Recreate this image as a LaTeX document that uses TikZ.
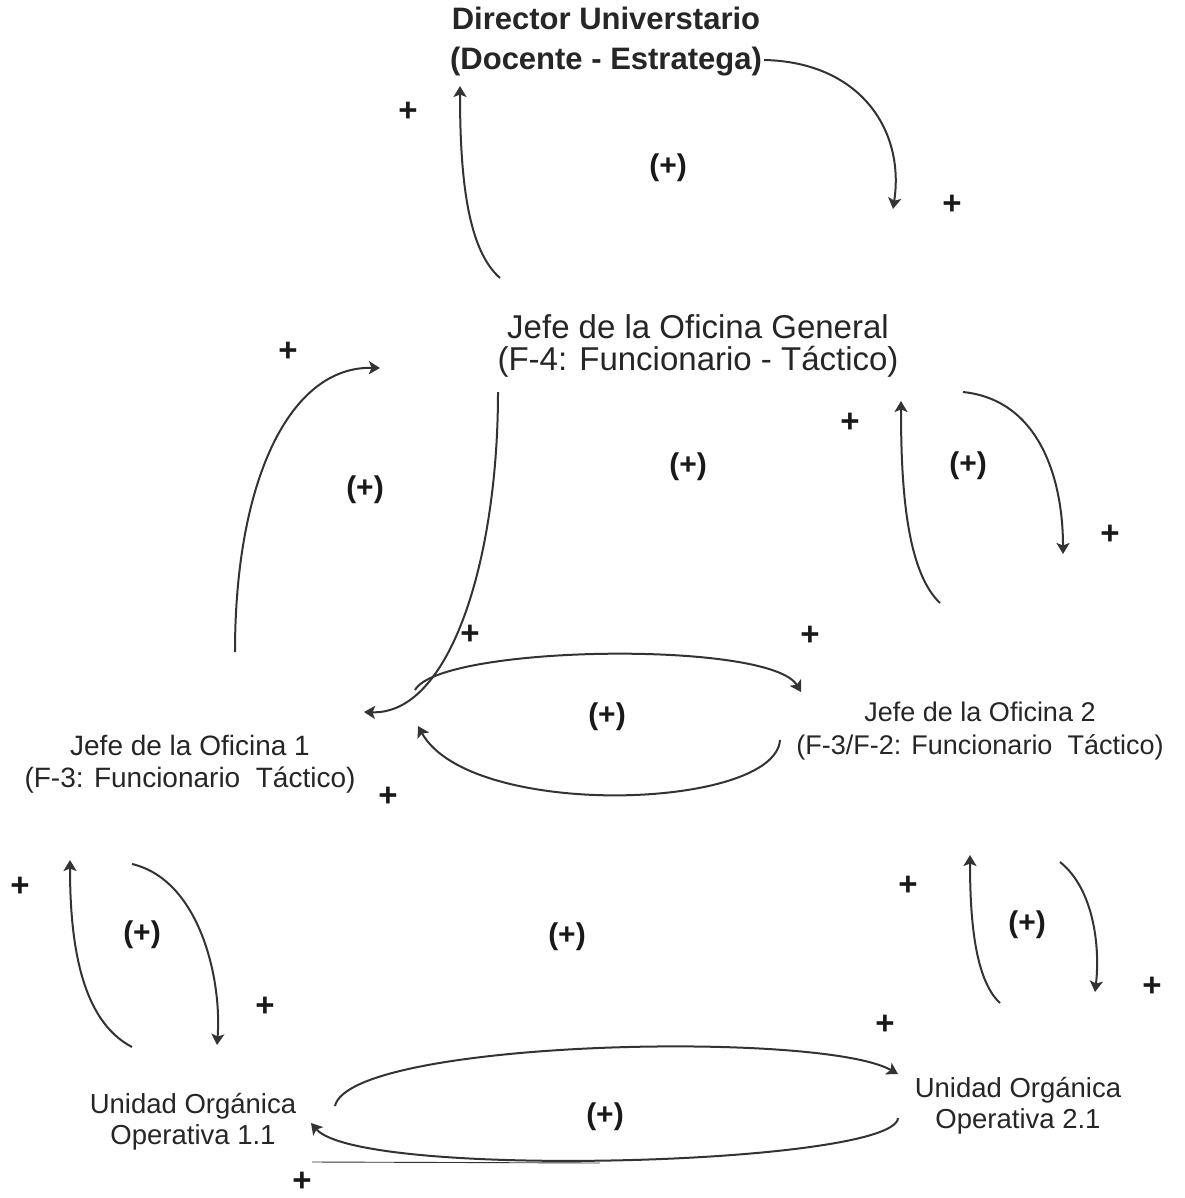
\documentclass[tikz,border=0pt]{standalone}
\usepackage{fontspec}
\setmainfont{Liberation Sans}
\usetikzlibrary{arrows.meta}
\begin{document}
\begin{tikzpicture}[x=1pt,y=-1pt,
  lbl/.style={align=center, inner sep=0pt, text=black!85},
  link/.style={draw=black!80, line width=2pt, -{Stealth[length=11pt,width=13pt,inset=2.5pt]}},
  sgn/.style={font=\fontsize{33}{33}\selectfont\bfseries, inner sep=0pt, text=black!90},
  loopmark/.style={font=\fontsize{30}{30}\selectfont\bfseries, inner sep=0pt, text=black!90}]
\useasboundingbox[fill=white] (0,0) rectangle (1184,1198);

% actors
\node[lbl, font=\fontsize{31}{40}\selectfont\bfseries] (dir) at (606,42) {Director Universtario\\(Docente - Estratega)};
\node[lbl, font=\fontsize{33}{32}\selectfont] (gen) at (698,346) {Jefe de la Oficina General\\(F-4: Funcionario - Táctico)};
\node[lbl, font=\fontsize{28}{32}\selectfont] (of1) at (190,764) {Jefe de la Oficina 1\\(F-3: Funcionario\ \ Táctico)};
\node[lbl, font=\fontsize{27}{33}\selectfont] (of2) at (980,731) {Jefe de la Oficina 2\\(F-3/F-2: Funcionario\ \ Táctico)};
\node[lbl, font=\fontsize{27.5}{31}\selectfont] (uo1) at (193,1122) {Unidad Orgánica\\Operativa 1.1};
\node[lbl, font=\fontsize{27.5}{31}\selectfont] (uo2) at (1018,1106) {Unidad Orgánica\\Operativa 2.1};

% connector end points
\coordinate (a1s) at (500,278); \coordinate (a1t) at (460,86);
\coordinate (a2s) at (764,60);  \coordinate (a2t) at (893,209);
\coordinate (b1s) at (235,652); \coordinate (b1t) at (380,368);
\coordinate (b2s) at (498,392); \coordinate (b2t) at (364,712);
\coordinate (c1s) at (940,603); \coordinate (c1t) at (901,401);
\coordinate (c2s) at (963,392); \coordinate (c2t) at (1063,554);
\coordinate (d1s) at (415,690); \coordinate (d1t) at (801,692);
\coordinate (d2s) at (780,740); \coordinate (d2t) at (418,726);
\coordinate (e1s) at (132,1047); \coordinate (e1t) at (70,860);
\coordinate (e2s) at (132,864);  \coordinate (e2t) at (217,1045);
\coordinate (f1s) at (1000,1003); \coordinate (f1t) at (970,855);
\coordinate (f2s) at (1060,862);  \coordinate (f2t) at (1095,992);
\coordinate (g1s) at (335,1106); \coordinate (g1t) at (898,1074);
\coordinate (g2s) at (898,1118); \coordinate (g2t) at (311,1123);
\coordinate (hs) at (312,1162);  \coordinate (he) at (600,1163);

% Director <-> Oficina General
\draw[link] (a1s) .. controls (468,250) and (460,180) .. (a1t);
\draw[link] (a2s) .. controls (860,62) and (905,130) .. (a2t);
% Oficina General <-> Oficina 1
\draw[link] (b1s) .. controls (235,480) and (290,366) .. (b1t);
\draw[link] (b2s) .. controls (498,560) and (450,715) .. (b2t);
% Oficina General <-> Oficina 2
\draw[link] (c1s) .. controls (905,570) and (901,480) .. (c1t);
\draw[link] (c2s) .. controls (1040,400) and (1063,480) .. (c2t);
% Oficina 1 <-> Oficina 2
\draw[link] (d1s) .. controls (440,645) and (770,640) .. (d1t);
\draw[link] (d2s) .. controls (775,810) and (470,820) .. (d2t);
% Oficina 1 <-> Unidad 1.1
\draw[link] (e1s) .. controls (80,1020) and (70,940) .. (e1t);
\draw[link] (e2s) .. controls (200,880) and (222,980) .. (e2t);
% Oficina 2 <-> Unidad 2.1
\draw[link] (f1s) .. controls (975,980) and (970,920) .. (f1t);
\draw[link] (f2s) .. controls (1095,890) and (1100,950) .. (f2t);
% Unidad 1.1 <-> Unidad 2.1
\draw[link] (g1s) .. controls (350,1040) and (820,1030) .. (g1t);
\draw[link] (g2s) .. controls (895,1165) and (360,1180) .. (g2t);
\draw[draw=black!80, line width=0.9pt] (hs) -- (he);

% link polarities
\node[sgn] (p1) at (408,112) {+};
\node[sgn] (p2) at (952,205) {+};
\node[sgn] (p3) at (288,352) {+};
\node[sgn] (p4) at (470,635) {+};
\node[sgn] (p5) at (850,423) {+};
\node[sgn] (p6) at (1110,535) {+};
\node[sgn] (p7) at (810,636) {+};
\node[sgn] (p8) at (388,797) {+};
\node[sgn] (p9) at (20,887) {+};
\node[sgn] (p10) at (265,1007) {+};
\node[sgn] (p11) at (908,886) {+};
\node[sgn] (p12) at (1152,987) {+};
\node[sgn] (p13) at (885,1025) {+};
\node[sgn] (p14) at (302,1182) {+};

% loop polarities
\node[loopmark] (l1) at (668,168) {(+)};
\node[loopmark] (l2) at (365,490) {(+)};
\node[loopmark] (l3) at (688,467) {(+)};
\node[loopmark] (l4) at (968,466) {(+)};
\node[loopmark] (l5) at (607,717) {(+)};
\node[loopmark] (l6) at (142,935) {(+)};
\node[loopmark] (l7) at (567,937) {(+)};
\node[loopmark] (l8) at (1027,925) {(+)};
\node[loopmark] (l9) at (605,1117) {(+)};
\end{tikzpicture}
\end{document}
